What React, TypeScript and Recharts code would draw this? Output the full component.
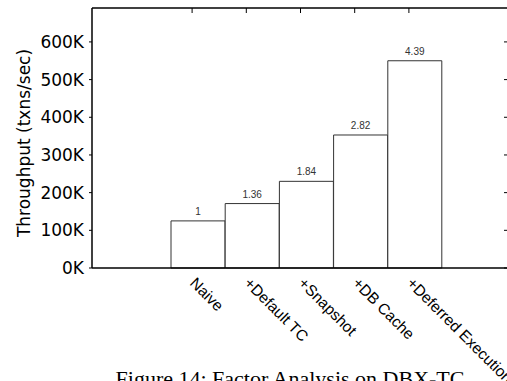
import React from 'react';
import { BarChart, Bar, XAxis, YAxis, LabelList } from 'recharts';

const categories = ['Naive', '+Default TC', '+Snapshot', '+DB Cache', '+Deferred Execution'];
const throughput = [125000, 171000, 230000, 353000, 550000];
const speedups = ['1', '1.36', '1.84', '2.82', '4.39'];
const yTicks = [0, 100000, 200000, 300000, 400000, 500000, 600000];
const yLabel = 'Throughput (txns/sec)';
const caption = 'Figure 14: Factor Analysis on DBX-TC';

const data = categories.map((name, i) => ({ name, value: throughput[i], label: speedups[i] }));

const SANS = '"DejaVu Sans", sans-serif';
const ARIAL = '"Liberation Sans", Arial, sans-serif';

const BottomTick = (props: any) => {
  const { x, y, payload } = props;
  return (
    <text
      transform={`translate(${x - 9},${y + 16}) rotate(45)`}
      fontFamily={ARIAL}
      fontSize={15.5}
      fill="#000"
      textAnchor="start"
    >
      {payload.value}
    </text>
  );
};

const TopTick = (props: any) => {
  const { x } = props;
  return <line x1={x - 6} x2={x - 6} y1={8} y2={13} stroke="#000" strokeWidth={1} />;
};

const RightTick = (props: any) => {
  const { y } = props;
  return <line x1={504} x2={509} y1={y} y2={y} stroke="#000" strokeWidth={1} />;
};

const YLabel = (props: any) => {
  const vb = props.viewBox || {};
  const lx = vb.x + vb.width - 62;
  const ly = vb.y + vb.height / 2 + 5;
  return (
    <text
      x={lx}
      y={ly}
      transform={`rotate(-90, ${lx}, ${ly})`}
      textAnchor="middle"
      fontFamily={SANS}
      fontSize={17}
      fill="#000"
    >
      {yLabel}
    </text>
  );
};

export default function App() {
  return (
    <div style={{ position: 'absolute', left: 0, top: 0, width: 507, height: 381, overflow: 'hidden', background: '#fff' }}>
      <BarChart
        width={520}
        height={381}
        data={data}
        margin={{ top: 7, right: 10, left: 32, bottom: 83 }}
        barCategoryGap={0}
        barGap={0}
      >
        <XAxis
          xAxisId="bottom"
          dataKey="name"
          orientation="bottom"
          height={30}
          padding={{ left: 79, right: 67 }}
          axisLine={{ stroke: '#000', strokeWidth: 1.5 }}
          tickLine={false}
          tickSize={0}
          tickMargin={0}
          interval={0}
          tick={<BottomTick />}
        />
        <XAxis
          xAxisId="top"
          dataKey="name"
          orientation="top"
          height={1}
          padding={{ left: 79, right: 67 }}
          axisLine={{ stroke: '#000', strokeWidth: 1.5 }}
          tickLine={false}
          tickSize={0}
          tickMargin={0}
          interval={0}
          tick={<TopTick />}
        />
        <YAxis
          yAxisId="left"
          type="number"
          domain={[0, 690000]}
          ticks={yTicks}
          width={60}
          interval={0}
          tickFormatter={(v: number) => `${v / 1000}K`}
          axisLine={{ stroke: '#000', strokeWidth: 1.5 }}
          tickLine={{ stroke: '#000' }}
          tickSize={3}
          tickMargin={5}
          tick={{ fontFamily: SANS, fontSize: 17, fill: '#000' }}
          label={<YLabel />}
        />
        <YAxis
          yAxisId="right"
          orientation="right"
          type="number"
          domain={[0, 690000]}
          ticks={yTicks}
          width={1}
          interval={0}
          axisLine={{ stroke: '#000', strokeWidth: 1.5 }}
          tickLine={false}
          tickSize={0}
          tickMargin={0}
          tick={<RightTick />}
        />
        <Bar
          xAxisId="bottom"
          yAxisId="left"
          dataKey="value"
          fill="#fff"
          stroke="#333"
          strokeWidth={1}
          isAnimationActive={false}
        >
          <LabelList
            dataKey="label"
            position="top"
            offset={6}
            style={{ fontFamily: ARIAL, fontSize: 10, fill: '#333' }}
          />
        </Bar>
        <Bar
          xAxisId="top"
          yAxisId="right"
          dataKey="value"
          fill="none"
          stroke="none"
          isAnimationActive={false}
        />
      </BarChart>
      <svg width={507} height={381} style={{ position: 'absolute', left: 0, top: 0, pointerEvents: 'none' }}>
        <text
          x={290}
          y={385.5}
          textAnchor="middle"
          fontFamily='"Liberation Serif", "Times New Roman", serif'
          fontSize={22}
          fill="#000"
        >
          {caption}
        </text>
      </svg>
    </div>
  );
}
